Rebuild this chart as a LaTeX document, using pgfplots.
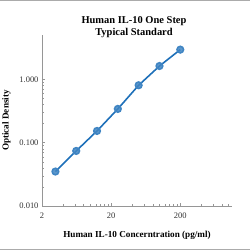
\documentclass[border=0pt]{standalone}
\usepackage{pgfplots}
\pgfplotsset{compat=1.18}
\usepackage{fontspec}
\setmainfont{Liberation Serif}
\definecolor{lineblue}{RGB}{30,112,185}
\definecolor{axgray}{RGB}{150,150,150}
\begin{document}
\begin{tikzpicture}[x=1bp,y=1bp]
\path[use as bounding box] (0,0) rectangle (250,250);
\fill[axgray!80] (0,248.5) rectangle (250,250);
\fill[axgray!80] (0,0) rectangle (250,1.5);
\node[font=\fontsize{10.5}{12}\selectfont\bfseries, align=center] at (134,223) {Human IL-10 One Step\\Typical Standard};
\begin{axis}[
  at={(42bp,44bp)}, anchor=south west,
  scale only axis, width=190bp, height=171bp,
  xmode=log, ymode=log,
  xmin=2, xmax=1120, ymin=0.01, ymax=5,
  axis lines=left, axis line style={axgray, -},
  tick style={axgray, thin},
  tick align=inside,
  major tick length=3bp, minor tick length=2bp,
  xtick={2,20,200}, xticklabels={2,20,200},
  minor xtick={4,6,8,10,12,14,16,18,40,60,80,100,120,140,160,180,400,600,800,1000},
  ytick={0.01,0.1,1}, yticklabels={0.010,0.100,1.000},
  ticklabel style={font=\fontsize{8.5}{10}\selectfont, text=black!80},
  xticklabel style={yshift=-3bp},
  xlabel={Human IL-10 Concerntration (pg/ml)},
  ylabel={Optical Density},
  label style={font=\fontsize{9.2}{11}\selectfont\bfseries},
  xlabel style={yshift=-6bp},
  ylabel style={yshift=2bp},
]
\addplot[lineblue, line width=1.6pt, mark=*, mark size=3.3pt,
  mark options={fill=lineblue!85, draw=lineblue!85, fill opacity=0.85}]
coordinates {
(3.125,0.035) (6.25,0.074) (12.5,0.153) (25,0.341) (50,0.805) (100,1.62) (200,2.94)
};
\end{axis}
\end{tikzpicture}
\end{document}
